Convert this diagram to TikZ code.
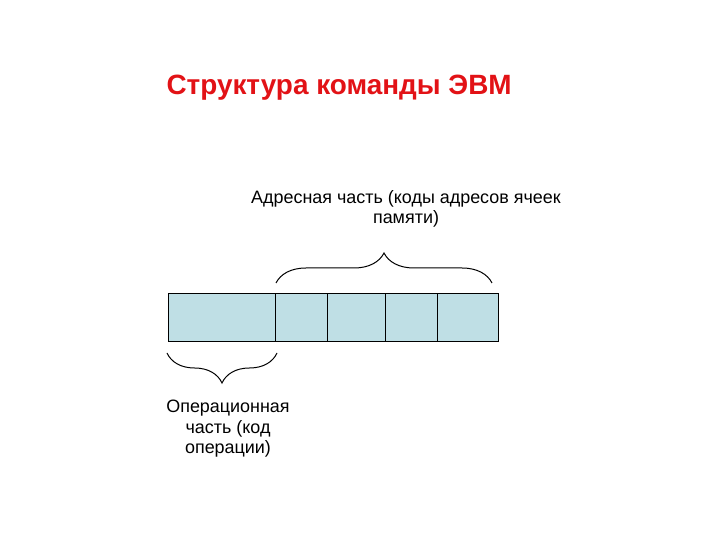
\documentclass[tikz,border=0pt]{standalone}
\usepackage{fontspec}
\setmainfont{Liberation Sans}
\usetikzlibrary{positioning,decorations.pathreplacing}
\definecolor{cellblue}{RGB}{191,223,229}
\definecolor{titlered}{RGB}{226,18,22}

\begin{document}
\begin{tikzpicture}[x=1bp,y=1bp,
  cell/.style={draw=black,fill=cellblue,line width=1bp,minimum height=48bp,inner sep=0pt,outer sep=0pt},
  brc/.style={decorate,decoration={brace,amplitude=30bp},line width=1bp}]
\useasboundingbox (0,0) rectangle (720,540);

\node[anchor=west,text=titlered,font=\fontsize{28}{32}\selectfont\bfseries] (title) at (163,452) {Структура команды ЭВМ};

% cells of the command
\node[cell,minimum width=107bp,anchor=south west] (op) at (168,198) {};
\node[cell,minimum width=52bp,right=0pt of op] (a1) {};
\node[cell,minimum width=58bp,right=0pt of a1] (a2) {};
\node[cell,minimum width=52bp,right=0pt of a2] (a3) {};
\node[cell,minimum width=61bp,right=0pt of a3] (a4) {};

% braces
\coordinate (tl) at (276,257);
\coordinate (tr) at (492,257);
\coordinate (bl) at (167,187);
\coordinate (br) at (277,187);
\draw[brc] (tl) -- (tr);
\draw[brc] (br) -- (bl);

\node[align=center,font=\fontsize{18}{20.5}\selectfont] (addr) at (406,331) {Адресная часть (коды адресов ячеек\\памяти)};
\node[align=center,font=\fontsize{18}{20.5}\selectfont] (opc) at (228,111) {Операционная\\часть (код\\операции)};

\end{tikzpicture}
\end{document}
